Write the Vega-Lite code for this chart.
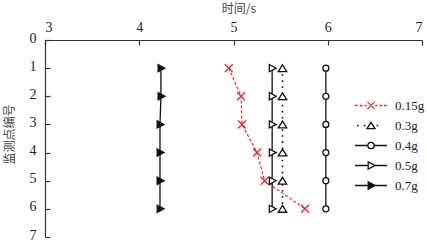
{
  "$schema": "https://vega.github.io/schema/vega-lite/v6.json",
  "width": 377,
  "height": 197,
  "autosize": {"type": "none"},
  "padding": {"left": 45, "top": 40, "right": 5, "bottom": 4},
  "background": "white",
  "config": {
    "view": {"stroke": null},
    "axis": {
      "labelFont": "Liberation Serif",
      "labelFontSize": 14,
      "labelColor": "#222",
      "domainColor": "#333",
      "domainWidth": 1.2,
      "tickColor": "#333",
      "tickWidth": 1.2,
      "grid": false,
      "titleFont": "Noto Sans CJK SC",
      "titleFontWeight": "normal",
      "titleFontSize": 12,
      "titleColor": "#444"
    },
    "legend": {
      "labelFont": "Liberation Serif",
      "labelFontSize": 13,
      "labelColor": "#222"
    }
  },
  "data": {
    "values": [
      {"series": "0.15g", "point": 1, "time": 4.95},
      {"series": "0.15g", "point": 2, "time": 5.08},
      {"series": "0.15g", "point": 3, "time": 5.09},
      {"series": "0.15g", "point": 4, "time": 5.25},
      {"series": "0.15g", "point": 5, "time": 5.33},
      {"series": "0.15g", "point": 6, "time": 5.76},
      {"series": "0.3g", "point": 1, "time": 5.52},
      {"series": "0.3g", "point": 2, "time": 5.52},
      {"series": "0.3g", "point": 3, "time": 5.52},
      {"series": "0.3g", "point": 4, "time": 5.52},
      {"series": "0.3g", "point": 5, "time": 5.52},
      {"series": "0.3g", "point": 6, "time": 5.52},
      {"series": "0.4g", "point": 1, "time": 5.98},
      {"series": "0.4g", "point": 2, "time": 5.98},
      {"series": "0.4g", "point": 3, "time": 5.98},
      {"series": "0.4g", "point": 4, "time": 5.98},
      {"series": "0.4g", "point": 5, "time": 5.98},
      {"series": "0.4g", "point": 6, "time": 5.98},
      {"series": "0.5g", "point": 1, "time": 5.41},
      {"series": "0.5g", "point": 2, "time": 5.41},
      {"series": "0.5g", "point": 3, "time": 5.41},
      {"series": "0.5g", "point": 4, "time": 5.41},
      {"series": "0.5g", "point": 5, "time": 5.41},
      {"series": "0.5g", "point": 6, "time": 5.41},
      {"series": "0.7g", "point": 1, "time": 4.23},
      {"series": "0.7g", "point": 2, "time": 4.23},
      {"series": "0.7g", "point": 3, "time": 4.22},
      {"series": "0.7g", "point": 4, "time": 4.22},
      {"series": "0.7g", "point": 5, "time": 4.22},
      {"series": "0.7g", "point": 6, "time": 4.22}
    ]
  },
  "encoding": {
    "x": {
      "field": "time",
      "type": "quantitative",
      "scale": {"domain": [3, 7], "nice": false, "zero": false},
      "axis": {
        "orient": "top",
        "title": "时间/s",
        "values": [3, 3.5, 4, 4.5, 5, 5.5, 6, 6.5, 7],
        "format": "d",
        "labelExpr": "datum.value % 1 === 0 ? datum.label : ''",
        "labelFont": "Liberation Serif",
        "tickSize": -5,
        "labelPadding": 11,
        "titleX": 193.5,
        "titleY": -32,
        "titleBaseline": "middle"
      }
    },
    "y": {
      "field": "point",
      "type": "quantitative",
      "scale": {"domain": [0, 7], "reverse": true, "nice": false, "zero": false},
      "axis": {
        "values": [0, 1, 2, 3, 4, 5, 6, 7],
        "format": "d",
        "labelFont": "Liberation Serif",
        "tickSize": -5,
        "labelPadding": 14,
        "labelOffset": -2,
        "title": "监测点编号",
        "titleAngle": 270,
        "titleX": -35.5,
        "titleY": 94,
        "titleBaseline": "middle",
        "titleFontSize": 12
      }
    }
  },
  "layer": [
    {
      "transform": [{"filter": "datum.series === '0.15g'"}],
      "layer": [
        {"mark": {"type": "line", "stroke": "#e3302f", "strokeWidth": 1.2, "strokeDash": [3, 2]}, "encoding": {"order": {"field": "point", "type": "quantitative"}}},
        {"mark": {"type": "point", "shape": "M-1,-1L1,1M-1,1L1,-1", "size": 64, "filled": true, "fill": "transparent", "stroke": "#e3302f", "strokeWidth": 1.4, "opacity": 1}}
      ]
    },
    {
      "transform": [{"filter": "datum.series === '0.3g'"}],
      "layer": [
        {"mark": {"type": "line", "stroke": "#111", "strokeWidth": 1.6, "strokeDash": [1.6, 4.5]}, "encoding": {"order": {"field": "point", "type": "quantitative"}}},
        {"mark": {"type": "point", "shape": "M0,-0.8L1,0.8H-1Z", "size": 72, "filled": true, "fill": "white", "stroke": "#111", "strokeWidth": 1.3, "opacity": 1}}
      ]
    },
    {
      "transform": [{"filter": "datum.series === '0.4g'"}],
      "layer": [
        {"mark": {"type": "line", "stroke": "#111", "strokeWidth": 1.3}, "encoding": {"order": {"field": "point", "type": "quantitative"}}},
        {"mark": {"type": "point", "shape": "circle", "size": 36, "filled": true, "fill": "white", "stroke": "#111", "strokeWidth": 1.3, "opacity": 1}}
      ]
    },
    {
      "transform": [{"filter": "datum.series === '0.5g'"}],
      "layer": [
        {"mark": {"type": "line", "stroke": "#111", "strokeWidth": 1.3}, "encoding": {"order": {"field": "point", "type": "quantitative"}}},
        {"mark": {"type": "point", "shape": "M-0.7,-0.9L1,0L-0.7,0.9Z", "size": 64, "filled": true, "fill": "white", "stroke": "#111", "strokeWidth": 1.3, "opacity": 1}}
      ]
    },
    {
      "transform": [{"filter": "datum.series === '0.7g'"}],
      "layer": [
        {"mark": {"type": "line", "stroke": "#111", "strokeWidth": 1.3}, "encoding": {"order": {"field": "point", "type": "quantitative"}}},
        {"mark": {"type": "point", "shape": "M-0.7,-0.9L1,0L-0.7,0.9Z", "size": 64, "filled": true, "fill": "#111", "stroke": "#111", "strokeWidth": 1.3, "opacity": 1}}
      ]
    },
    {
      "transform": [{"filter": "false"}],
      "mark": {"type": "point", "filled": true},
      "encoding": {
        "shape": {
          "field": "series",
          "type": "nominal",
          "scale": {
            "domain": ["0.15g", "0.3g", "0.4g", "0.5g", "0.7g"],
            "range": [
              "M-4,0H-3.3M-2.8,0H-2.1M-1.6,0H-1.1M-0.9,-0.9L0.9,0.9M-0.9,0.9L0.9,-0.9M1.1,0H1.6M2.1,0H2.8M3.3,0H4",
              "M-3.5,0H-3.1M-1.8,0H-1.4M0,-0.8L1,0.8H-1ZM1.4,0H1.8",
              "M-4,0H-0.8M0.8,0H4M-0.8,0A0.8,0.8 0 1,0 0.8,0A0.8,0.8 0 1,0 -0.8,0Z",
              "M-4,0H-0.7M1,0H4M-0.7,-0.9L1,0L-0.7,0.9Z",
              "M-4,0H-0.7M1,0H4M-0.7,-0.9L1,0L-0.7,0.9Z"
            ]
          },
          "legend": {"orient": "none", "legendX": 319.5, "legendY": 59, "title": null, "symbolSize": 64, "symbolStrokeWidth": 1.3, "symbolOpacity": 1, "labelFont": "Liberation Serif", "labelFontSize": 13, "labelOffset": 17.5, "rowPadding": 6, "labelColor": "#222"}
        },
        "stroke": {
          "field": "series",
          "type": "nominal",
          "scale": {"domain": ["0.15g", "0.3g", "0.4g", "0.5g", "0.7g"], "range": ["#e3302f", "#111", "#111", "#111", "#111"]},
          "legend": {"orient": "none", "legendX": 319.5, "legendY": 59, "title": null, "symbolSize": 64, "symbolStrokeWidth": 1.3, "symbolOpacity": 1, "labelFont": "Liberation Serif", "labelFontSize": 13, "labelOffset": 17.5, "rowPadding": 6, "labelColor": "#222"}
        },
        "fill": {
          "field": "series",
          "type": "nominal",
          "scale": {"domain": ["0.15g", "0.3g", "0.4g", "0.5g", "0.7g"], "range": ["transparent", "white", "white", "white", "#111"]},
          "legend": {"orient": "none", "legendX": 319.5, "legendY": 59, "title": null, "symbolSize": 64, "symbolStrokeWidth": 1.3, "symbolOpacity": 1, "labelFont": "Liberation Serif", "labelFontSize": 13, "labelOffset": 17.5, "rowPadding": 6, "labelColor": "#222"}
        }
      }
    }
  ]
}
